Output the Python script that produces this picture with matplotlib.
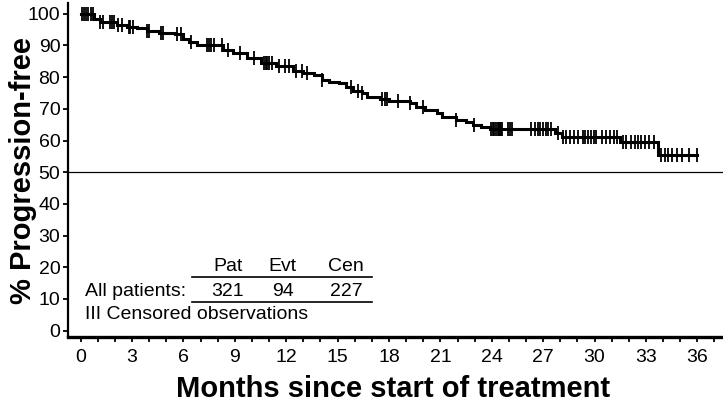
import numpy as np
import matplotlib
matplotlib.use("Agg")
import matplotlib.pyplot as plt

# ---- data ----
step_times = [0, 0.8, 1.1, 2.1, 2.7, 3.3, 3.9, 4.6, 5.5, 6.0, 6.3, 6.8, 8.3, 8.9, 9.7,
              10.5, 11.4, 12.4, 13.0, 13.6, 14.1, 14.5, 15.1, 15.5, 15.9, 16.4, 16.7,
              17.5, 18.0, 19.2, 19.6, 20.1, 20.8, 21.1, 21.9, 22.5, 22.9, 23.4, 23.9,
              27.7, 28.1, 31.5, 33.7, 36.0]
step_surv = [100, 98.2, 97.5, 96.6, 95.9, 95.4, 94.7, 94.0, 93.5, 91.9, 91.2, 90.3, 88.7,
             87.7, 86.1, 84.5, 83.5, 82.0, 81.4, 80.7, 79.1, 78.6, 78.0, 77.0, 75.7, 74.9,
             73.6, 73.0, 72.5, 71.7, 70.5, 69.6, 68.6, 67.5, 66.5, 66.0, 64.9, 64.2, 63.5,
             62.3, 61.0, 59.6, 55.4, 55.4]
censor_times = [0.1, 0.2, 0.3, 0.45, 0.6, 0.7, 1.15, 1.3, 1.7, 1.8, 1.95, 2.2, 2.4,
                2.8, 2.9, 3.05, 3.9, 4.0, 4.7, 4.8, 5.6, 5.85, 6.45, 7.4, 7.5, 7.6, 7.8,
                8.25, 8.6, 9.3, 10.1, 10.7, 10.8, 10.9, 11.0, 11.15, 11.6, 11.9, 12.15,
                12.6, 12.9, 13.2, 14.1, 15.8, 16.2, 16.4, 17.6, 17.75, 17.9, 18.5, 19.2,
                20.0, 21.9, 22.95, 23.95, 24.05, 24.15, 24.25, 24.35, 24.42, 24.48, 24.55,
                24.62, 24.95, 25.05, 25.2, 26.31, 26.5, 26.7, 26.84, 26.99, 27.15, 27.28,
                27.48, 27.85, 28.16, 28.35, 28.55, 28.8, 29.03, 29.32, 29.46, 29.62, 29.77,
                29.95, 30.1, 30.45, 30.69, 30.88, 31.11, 31.31, 31.66, 31.85, 32.15, 32.34,
                32.53, 32.73, 32.92, 33.17, 33.45, 33.9, 34.1, 34.3, 34.5, 34.8, 35.1,
                35.5, 36.0]
x_ticks = list(range(0, 38))
x_labels = [str(t) if t % 3 == 0 else "" for t in x_ticks]
y_ticks = [0, 10, 20, 30, 40, 50, 60, 70, 80, 90, 100]
table_header = ["Pat", "Evt", "Cen"]
table_row_label = "All patients:"
table_values = ["321", "94", "227"]
median_line = 50

plt.rcParams['font.family'] = ['Liberation Sans', 'DejaVu Sans']

fig = plt.figure(figsize=(7.23, 4.09), dpi=100)
ax = fig.add_axes([68 / 723, (409 - 337) / 409, 655 / 723, 334 / 409])

st = np.array(step_times)
ss = np.array(step_surv)
ax.step(st, ss, where='post', color='black', lw=2.2, solid_joinstyle='miter')
ct = np.array(censor_times)
idx = np.searchsorted(st, ct, side='right') - 1
ax.plot(ct, ss[idx], linestyle='none', marker='|', markersize=9.5, markeredgewidth=1.3,
        color='black')

ax.axhline(median_line, color='black', lw=0.9)

ax.set_xlim(-0.74, 37.5)
ax.set_ylim(-2.0, 103.4)
ax.set_xticks(x_ticks)
ax.set_xticklabels(x_labels)
ax.set_yticks(y_ticks)
ax.tick_params(axis='both', direction='out', length=3.5, width=1.3, labelsize=14,
               colors='black', pad=2)
ax.tick_params(axis='x', pad=5)
for s in ['top', 'right']:
    ax.spines[s].set_visible(False)
ax.spines['left'].set_linewidth(1.6)
ax.spines['bottom'].set_linewidth(2.4)

ax.set_xlabel("Months since start of treatment", fontsize=21, fontweight='bold')
ax.xaxis.set_label_coords((393 - 68) / 655, (337 - 389) / 334)
ax.xaxis.label.set_va('center')
ax.set_ylabel("% Progression-free", fontsize=21, fontweight='bold')
ax.yaxis.set_label_coords((23 - 68) / 655, (337 - 170) / 334)
ax.yaxis.label.set_va('center')

# in-plot table
hx = [8.59, 11.8, 15.48]
for x, h in zip(hx, table_header):
    ax.text(x, 20.1, h, ha='center', va='center', fontsize=14)
for x, v in zip(hx, table_values):
    ax.text(x, 12.3, v, ha='center', va='center', fontsize=14)
ax.text(0.25, 12.3, table_row_label, ha='left', va='center', fontsize=14)
ax.plot([6.48, 16.98], [17.0, 17.0], color='black', lw=1.2)
ax.plot([6.48, 16.98], [8.96, 8.96], color='black', lw=1.2)
ax.text(0.25, 4.95, "III Censored observations", ha='left', va='center', fontsize=14)

fig.savefig("out.png", dpi=100)
